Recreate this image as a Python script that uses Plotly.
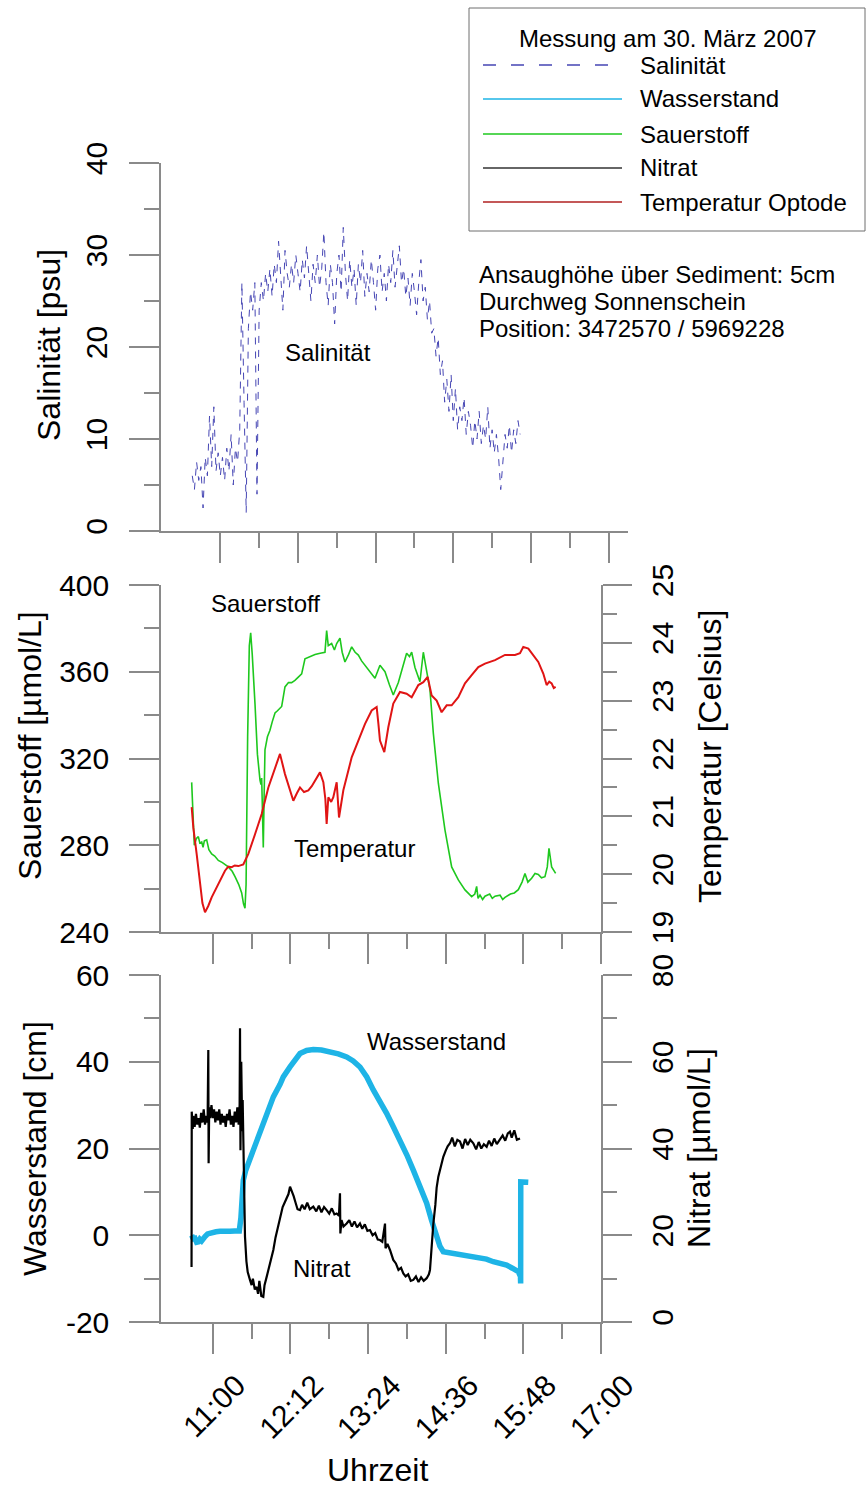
import plotly.graph_objects as go

W, H = 866, 1491
FONT = "Liberation Sans, Arial, sans-serif"
AXIS_GREY = "#8a8a8a"

SAL_COLOR = "#4646b4"
LEVEL_COLOR = "#1eb4e6"
OXY_COLOR = "#1ec81e"
NIT_COLOR = "#000000"
TEMP_COLOR = "#e01414"


def px(x):
    """horizontal pixel -> paper fraction"""
    return x / W


def py(y):
    """vertical pixel (from top) -> paper fraction"""
    return 1 - y / H


def hours(clock):
    h, m = clock.split(":")
    return int(h) + int(m) / 60


# ---------------------------------------------------------------- data
# Salinity [psu], logged every 2 minutes from 10:41
sal_start = "10:41"
sal_step_min = 2
salinity = [
    6.0, 4.5, 7.5, 5.5, 7.0, 2.5, 8.0, 6.0, 12.5, 7.0,
    13.5, 6.5, 8.5, 6.0, 8.0, 5.5, 9.0, 6.5, 10.5, 5.0,
    9.0, 7.5, 11.0, 27.0, 14.0, 2.0, 22.0, 26.0, 24.0, 27.0,
    4.0, 24.0, 27.0, 25.0, 28.0, 26.0, 28.5, 25.5, 29.0, 27.0,
    31.5, 27.5, 24.0, 30.5, 28.0, 26.5, 29.0, 27.0, 30.0, 28.0,
    26.0, 29.5, 27.5, 31.0, 28.0, 25.0, 29.0, 27.0, 30.0, 26.5,
    28.5, 32.5, 27.0, 24.5, 29.0, 27.0, 22.5, 28.0, 30.0, 26.0,
    33.0, 28.0, 25.0, 29.5, 26.5, 28.5, 24.5, 29.0, 27.0, 30.5,
    25.5, 28.0, 26.0, 29.5, 27.0, 24.0, 28.5, 30.0, 26.0, 28.0,
    25.0, 29.0, 27.0, 30.5, 26.5, 28.5, 31.0, 27.0, 28.5, 25.5,
    27.5, 24.5, 28.0, 26.0, 23.5, 27.0, 29.5, 25.0, 26.5, 23.0,
    25.0, 21.5, 22.0, 19.0, 21.0, 17.0, 18.5, 14.0, 16.5, 13.0,
    17.0, 12.0, 15.5, 11.0, 13.5, 12.0, 14.5, 10.5, 13.0, 11.5,
    9.0, 12.0, 10.0, 13.0, 9.5, 11.5, 10.0, 13.5, 9.0, 11.0,
    8.5, 10.5, 8.0, 4.5, 7.5, 10.5, 9.0, 11.5, 8.5, 11.0,
    9.5, 12.0, 10.5,
]

# Oxygen [µmol/L]  (time in decimal hours, value)
oxygen = [
    (10.674, 309), (10.690, 295), (10.715, 280), (10.745, 283), (10.777, 284),
    (10.800, 281), (10.829, 281.5), (10.850, 279), (10.870, 282), (10.906, 282.5),
    (10.940, 278), (10.983, 276), (11.030, 275), (11.086, 273), (11.150, 272),
    (11.240, 270), (11.300, 268), (11.344, 265.5), (11.400, 262), (11.447, 258),
    (11.475, 253), (11.498, 251), (11.515, 262), (11.539, 330), (11.565, 372),
    (11.586, 378), (11.610, 368), (11.653, 345), (11.690, 322), (11.730, 310),
    (11.745, 308), (11.756, 311), (11.768, 300), (11.781, 279), (11.795, 305),
    (11.807, 324), (11.845, 330), (11.884, 333), (11.920, 337), (11.962, 341),
    (12.000, 342), (12.065, 344), (12.116, 353), (12.170, 355), (12.219, 355),
    (12.270, 356), (12.322, 357.5), (12.374, 359), (12.425, 366), (12.500, 367),
    (12.580, 368), (12.660, 368.5), (12.734, 369), (12.760, 379), (12.785, 372),
    (12.837, 373), (12.880, 370), (12.915, 373), (12.966, 375.5), (13.000, 369),
    (13.043, 364.5), (13.100, 368), (13.147, 371.5), (13.200, 369), (13.250, 367.7),
    (13.300, 365), (13.353, 363), (13.430, 360), (13.507, 357), (13.584, 363),
    (13.662, 360), (13.730, 354), (13.790, 349.3), (13.868, 355), (13.930, 362),
    (13.996, 368.5), (14.040, 367), (14.074, 369), (14.125, 362), (14.165, 358),
    (14.202, 355.4), (14.254, 369), (14.280, 365), (14.305, 359.4), (14.357, 351.6),
    (14.409, 331.6), (14.486, 308.6), (14.589, 287), (14.692, 270), (14.795, 264),
    (14.898, 259.4), (15.001, 256.3), (15.050, 257.5), (15.078, 261), (15.100, 255.5),
    (15.130, 257), (15.170, 255), (15.207, 256.5), (15.280, 257.5), (15.320, 255.5),
    (15.362, 256.5), (15.440, 257), (15.480, 255), (15.516, 256), (15.600, 257.5),
    (15.660, 258), (15.722, 259.5), (15.780, 263), (15.825, 267), (15.870, 263),
    (15.928, 264.8), (15.980, 267), (16.031, 266.5), (16.080, 265), (16.134, 265.5),
    (16.170, 270), (16.196, 278.6), (16.237, 270), (16.299, 267),
]

# Optode temperature [°C]
temperature = [
    (10.674, 21.16), (10.700, 20.80), (10.751, 20.35), (10.800, 19.85), (10.840, 19.50),
    (10.880, 19.34), (10.930, 19.45), (10.983, 19.60), (11.030, 19.70), (11.086, 19.83),
    (11.140, 19.95), (11.189, 20.06), (11.240, 20.13), (11.292, 20.12), (11.340, 20.15),
    (11.395, 20.14), (11.472, 20.17), (11.550, 20.35), (11.653, 20.69), (11.756, 21.04),
    (11.859, 21.50), (11.962, 21.85), (12.039, 22.08), (12.116, 21.73), (12.180, 21.50),
    (12.245, 21.27), (12.300, 21.40), (12.348, 21.50), (12.410, 21.42), (12.477, 21.45),
    (12.530, 21.52), (12.580, 21.62), (12.657, 21.76), (12.709, 21.59), (12.740, 21.30),
    (12.760, 20.87), (12.786, 21.33), (12.830, 21.25), (12.863, 21.33), (12.915, 21.59),
    (12.951, 20.98), (13.018, 21.45), (13.080, 21.75), (13.147, 22.02), (13.250, 22.31),
    (13.353, 22.60), (13.456, 22.83), (13.533, 22.89), (13.560, 22.60), (13.584, 22.31),
    (13.651, 22.11), (13.713, 22.54), (13.790, 22.95), (13.893, 23.15), (13.996, 23.12),
    (14.074, 23.06), (14.177, 23.27), (14.254, 23.32), (14.321, 23.41), (14.350, 23.25),
    (14.383, 23.09), (14.460, 23.00), (14.537, 22.80), (14.615, 22.92), (14.692, 22.92),
    (14.795, 23.06), (14.898, 23.30), (15.001, 23.44), (15.104, 23.58), (15.207, 23.64),
    (15.362, 23.70), (15.516, 23.79), (15.671, 23.79), (15.748, 23.82), (15.799, 23.93),
    (15.877, 23.90), (15.954, 23.79), (16.031, 23.67), (16.108, 23.47), (16.160, 23.27),
    (16.200, 23.33), (16.237, 23.30), (16.270, 23.22), (16.299, 23.24),
]

# Water level [cm]
water_level = [
    (10.674, 0.0), (10.700, -0.8), (10.725, -0.7), (10.750, -1.6), (10.777, -1.5),
    (10.800, -0.9), (10.828, -1.3), (10.855, -0.5), (10.880, -0.3), (10.920, 0.3),
    (10.957, 0.5), (11.000, 0.7), (11.050, 0.8), (11.112, 0.9), (11.190, 0.8),
    (11.266, 0.9), (11.340, 1.0), (11.410, 1.0), (11.435, 4.0), (11.447, 7.4),
    (11.472, 12.7), (11.510, 15.0), (11.550, 16.6), (11.627, 19.6), (11.680, 22.0),
    (11.730, 24.3), (11.780, 26.2), (11.833, 28.1), (11.936, 31.9), (12.040, 34.8),
    (12.090, 36.5), (12.194, 38.8), (12.270, 40.5), (12.348, 41.9), (12.450, 42.6),
    (12.554, 42.8), (12.680, 42.7), (12.812, 42.3), (12.940, 41.8), (13.069, 41.1),
    (13.170, 40.2), (13.275, 38.8), (13.380, 36.5), (13.481, 33.5), (13.587, 30.8),
    (13.687, 28.1), (13.790, 25.0), (13.893, 22.0), (14.000, 18.5), (14.099, 15.0),
    (14.200, 11.2), (14.306, 7.4), (14.380, 3.5), (14.460, -0.3), (14.510, -2.5),
    (14.563, -3.8), (14.640, -4.0), (14.718, -4.2), (14.820, -4.4), (14.924, -4.6),
    (15.030, -4.8), (15.130, -5.0), (15.230, -5.5), (15.336, -6.1), (15.440, -6.5),
    (15.542, -6.9), (15.630, -7.6), (15.722, -8.4), (15.755, -9.5), (15.758, -11.1),
    (15.760, 12.3), (15.800, 12.2), (15.876, 12.2),
]

# Nitrate [µmol/L]
nitrate = [
    (10.672, 12.7), (10.675, 48.5), (10.690, 44.5), (10.700, 47.5), (10.720, 45.0),
    (10.740, 48.0), (10.760, 45.5), (10.780, 47.0), (10.800, 44.8), (10.820, 48.2),
    (10.840, 46.0), (10.860, 49.0), (10.880, 45.5), (10.900, 47.5), (10.920, 46.0),
    (10.931, 62.7), (10.936, 36.6), (10.945, 49.5), (10.960, 47.0), (10.980, 50.0),
    (11.000, 47.0), (11.020, 49.0), (11.040, 46.0), (11.060, 48.5), (11.080, 46.5),
    (11.100, 49.0), (11.120, 45.5), (11.140, 48.0), (11.160, 46.0), (11.180, 47.5),
    (11.200, 45.0), (11.220, 48.0), (11.240, 46.5), (11.260, 49.0), (11.280, 45.5),
    (11.300, 47.5), (11.320, 45.0), (11.340, 48.5), (11.360, 46.0), (11.380, 49.5),
    (11.400, 45.5), (11.415, 50.0), (11.421, 67.7), (11.428, 39.6), (11.440, 60.0),
    (11.455, 44.0), (11.462, 51.2), (11.475, 40.0), (11.485, 28.0), (11.498, 19.7),
    (11.520, 14.0), (11.540, 11.5), (11.575, 9.7), (11.600, 8.5), (11.620, 10.0),
    (11.650, 7.5), (11.678, 8.1), (11.700, 6.5), (11.720, 9.5), (11.750, 6.0),
    (11.781, 5.8), (11.800, 8.5), (11.833, 10.4), (11.860, 12.0), (11.900, 14.5),
    (11.936, 16.6), (11.970, 19.5), (12.000, 21.5), (12.039, 24.0), (12.080, 26.5),
    (12.110, 27.5), (12.142, 28.5), (12.170, 29.5), (12.194, 31.2), (12.219, 30.4),
    (12.250, 29.0), (12.280, 27.5), (12.310, 26.0), (12.348, 25.8), (12.380, 27.0),
    (12.420, 26.0), (12.460, 27.5), (12.500, 26.0), (12.554, 26.6), (12.600, 25.5),
    (12.640, 26.8), (12.680, 25.3), (12.720, 26.5), (12.760, 25.8), (12.800, 25.0),
    (12.840, 26.2), (12.880, 24.8), (12.915, 25.0), (12.950, 24.5), (12.966, 29.7),
    (12.972, 20.4), (12.990, 23.5), (13.020, 22.0), (13.069, 22.7), (13.110, 23.5),
    (13.150, 22.0), (13.190, 23.2), (13.230, 21.8), (13.275, 22.7), (13.310, 21.5),
    (13.350, 22.5), (13.390, 21.0), (13.430, 21.2), (13.470, 20.0), (13.510, 20.5),
    (13.550, 19.0), (13.584, 18.9), (13.620, 18.5), (13.662, 22.7), (13.670, 17.0),
    (13.700, 18.0), (13.739, 16.6), (13.790, 14.3), (13.830, 13.5), (13.870, 12.0),
    (13.910, 12.5), (13.945, 11.2), (13.980, 10.5), (14.020, 11.0), (14.060, 9.5),
    (14.099, 9.7), (14.140, 10.5), (14.180, 9.2), (14.220, 10.3), (14.260, 9.5),
    (14.306, 10.1), (14.340, 11.0), (14.357, 12.0), (14.380, 17.0), (14.409, 22.7),
    (14.440, 27.0), (14.460, 31.0), (14.486, 33.5), (14.520, 35.5), (14.563, 38.1),
    (14.600, 39.5), (14.630, 40.5), (14.666, 41.2), (14.700, 42.5), (14.740, 40.5),
    (14.780, 42.0), (14.821, 41.6), (14.860, 40.0), (14.900, 42.2), (14.940, 40.8),
    (14.980, 42.0), (15.027, 41.2), (15.070, 39.8), (15.110, 41.5), (15.150, 40.0),
    (15.190, 41.0), (15.233, 40.4), (15.270, 41.8), (15.310, 40.6), (15.350, 42.3),
    (15.390, 41.0), (15.439, 42.0), (15.480, 43.0), (15.520, 41.8), (15.560, 43.5),
    (15.593, 43.9), (15.620, 42.5), (15.660, 44.2), (15.700, 42.0), (15.748, 42.3),
]

# time axis ticks (clock strings)
time_labels = ["11:00", "12:12", "13:24", "14:36", "15:48", "17:00"]
time_minor = ["11:36", "12:48", "14:00", "15:12", "16:24"]
sal_ticks = ["11:07", "12:19", "13:31", "14:43", "15:55", "17:07"]
sal_minor = ["11:43", "12:55", "14:07", "15:19", "16:31"]
time_start, time_end, sal_end = "10:12", "17:00", "17:25"

# water-level tick labels (plain hyphen for the negative value)
level_ticks = [-20, 0, 20, 40, 60]
level_labels = ["-20", "0", "20", "40", "60"]


def split(pairs):
    return [p[0] for p in pairs], [p[1] for p in pairs]


sal_t0 = hours(sal_start)
sal_time = [sal_t0 + i * sal_step_min / 60 for i in range(len(salinity))]
oxy_t, oxy_v = split(oxygen)
tmp_t, tmp_v = split(temperature)
lvl_t, lvl_v = split(water_level)
nit_t, nit_v = split(nitrate)

# ---------------------------------------------------------------- figure
fig = go.Figure()
fig.add_trace(go.Scatter(x=sal_time, y=salinity, mode="lines", name="Salinität",
                         line=dict(color=SAL_COLOR, width=1, dash="7px,7px"),
                         xaxis="x", yaxis="y"))
fig.add_trace(go.Scatter(x=oxy_t, y=oxy_v, mode="lines", name="Sauerstoff",
                         line=dict(color=OXY_COLOR, width=1.6),
                         xaxis="x2", yaxis="y2"))
fig.add_trace(go.Scatter(x=tmp_t, y=tmp_v, mode="lines", name="Temperatur Optode",
                         line=dict(color=TEMP_COLOR, width=2),
                         xaxis="x2", yaxis="y3"))
fig.add_trace(go.Scatter(x=lvl_t, y=lvl_v, mode="lines", name="Wasserstand",
                         line=dict(color=LEVEL_COLOR, width=5.5),
                         xaxis="x3", yaxis="y4"))
fig.add_trace(go.Scatter(x=nit_t, y=nit_v, mode="lines", name="Nitrat",
                         line=dict(color=NIT_COLOR, width=2.2),
                         xaxis="x3", yaxis="y5"))

tick_font = dict(family=FONT, size=30, color="black")


def axis_style(**kw):
    base = dict(showline=True, linecolor=AXIS_GREY, linewidth=1.5,
                ticks="outside", ticklen=30, tickwidth=1.5, tickcolor=AXIS_GREY,
                showgrid=False, zeroline=False, tickfont=tick_font,
                automargin=False, fixedrange=True)
    base.update(kw)
    return base


def minor(**kw):
    base = dict(ticks="outside", ticklen=15, tickwidth=1.5, tickcolor=AXIS_GREY,
                showgrid=False)
    base.update(kw)
    return base


x_dom = [px(161), px(601)]
top_dom = [py(531), py(163)]
mid_dom = [py(932), py(585)]
bot_dom = [py(1322), py(975)]

fig.update_layout(
    template="none",
    width=W, height=H, autosize=False,
    margin=dict(l=0, r=0, t=0, b=0, pad=0, autoexpand=False),
    paper_bgcolor="white", plot_bgcolor="white",
    showlegend=False,
    font=dict(family=FONT, color="black"),
    xaxis=axis_style(domain=[px(161), px(628)], anchor="y",
                     range=[hours(time_start), hours(sal_end)],
                     tickmode="array", tickvals=[hours(t) for t in sal_ticks],
                     showticklabels=False,
                     minor=minor(tickmode="array",
                                 tickvals=[hours(t) for t in sal_minor])),
    yaxis=axis_style(domain=top_dom, anchor="x", range=[0, 40],
                     tickmode="linear", tick0=0, dtick=10, tickangle=-90,
                     ticklabelstandoff=10,
                     minor=minor(dtick=5)),
    xaxis2=axis_style(domain=x_dom, anchor="y2",
                      range=[hours(time_start), hours(time_end)],
                      tickmode="array", tickvals=[hours(t) for t in time_labels],
                      showticklabels=False,
                      minor=minor(tickmode="array",
                                  tickvals=[hours(t) for t in time_minor])),
    yaxis2=axis_style(domain=mid_dom, anchor="x2", range=[240, 400],
                      tickmode="linear", tick0=240, dtick=40,
                      ticklabelstandoff=14,
                      minor=minor(dtick=20)),
    yaxis3=axis_style(overlaying="y2", anchor="x2", side="right", range=[19, 25],
                      tickmode="linear", tick0=19, dtick=1, tickangle=-90,
                      ticklen=29, ticklabelstandoff=5,
                      minor=minor(dtick=0.5, ticklen=14)),
    xaxis3=axis_style(domain=x_dom, anchor="y4",
                      range=[hours(time_start), hours(time_end)],
                      tickmode="array", tickvals=[hours(t) for t in time_labels],
                      ticktext=time_labels, tickangle=-45,
                      ticklabelshift=24, ticklabelstandoff=2,
                      minor=minor(tickmode="array",
                                  tickvals=[hours(t) for t in time_minor])),
    yaxis4=axis_style(domain=bot_dom, anchor="x3", range=[-20, 60],
                      tickmode="array", tickvals=level_ticks, ticktext=level_labels,
                      ticklabelstandoff=14,
                      minor=minor(dtick=10)),
    yaxis5=axis_style(overlaying="y4", anchor="x3", side="right", range=[0, 80],
                      tickmode="linear", tick0=0, dtick=20, tickangle=-90,
                      ticklen=29, ticklabelstandoff=5,
                      minor=minor(dtick=10, ticklen=14)),
)

# ---------------------------------------------------------------- text
annotations = []


def label(text, x, y, size=24, angle=0, xanchor="center"):
    annotations.append(dict(text=text, x=px(x), y=py(y), xref="paper", yref="paper",
                            showarrow=False, textangle=angle, xanchor=xanchor,
                            yanchor="middle",
                            font=dict(family=FONT, size=size, color="black")))


# axis titles
label("Salinität [psu]", 49, 345, size=32, angle=-90)
label("Sauerstoff [µmol/L]", 30, 746, size=32, angle=-90)
label("Wasserstand [cm]", 35, 1149, size=32, angle=-90)
label("Temperatur [Celsius]", 710, 757, size=32, angle=-90)
label("Nitrat [µmol/L]", 699, 1148, size=32, angle=-90)
label("Uhrzeit", 377, 1470, size=32)

# curve names inside the panels
label("Salinität", 328, 353)
label("Sauerstoff", 265, 603)
label("Temperatur", 354, 848)
label("Wasserstand", 436, 1041)
label("Nitrat", 322, 1268)

# site information
label("Ansaughöhe über Sediment: 5cm", 477, 274, xanchor="left")
label("Durchweg Sonnenschein", 477, 301, xanchor="left")
label("Position: 3472570 / 5969228", 477, 328, xanchor="left")

# legend box
shapes = [dict(type="rect", xref="paper", yref="paper",
               x0=px(469), x1=px(865), y0=py(231), y1=py(8),
               line=dict(color="#6e6e6e", width=1), fillcolor="white", layer="below")]
label("Messung am 30. März 2007", 667, 38)
legend_rows = [
    ("Salinität", SAL_COLOR, "13px,15px", 65),
    ("Wasserstand", LEVEL_COLOR, "solid", 99),
    ("Sauerstoff", OXY_COLOR, "solid", 134),
    ("Nitrat", "#333333", "solid", 168),
    ("Temperatur Optode", "#b02020", "solid", 202),
]
for name, color, dash, ypix in legend_rows:
    shapes.append(dict(type="line", xref="paper", yref="paper",
                       x0=px(483), x1=px(622), y0=py(ypix), y1=py(ypix),
                       line=dict(color=color, width=1.5, dash=dash)))
    label(name, 638, ypix, xanchor="left")

fig.update_layout(annotations=annotations, shapes=shapes)

fig.write_html("out.html")
